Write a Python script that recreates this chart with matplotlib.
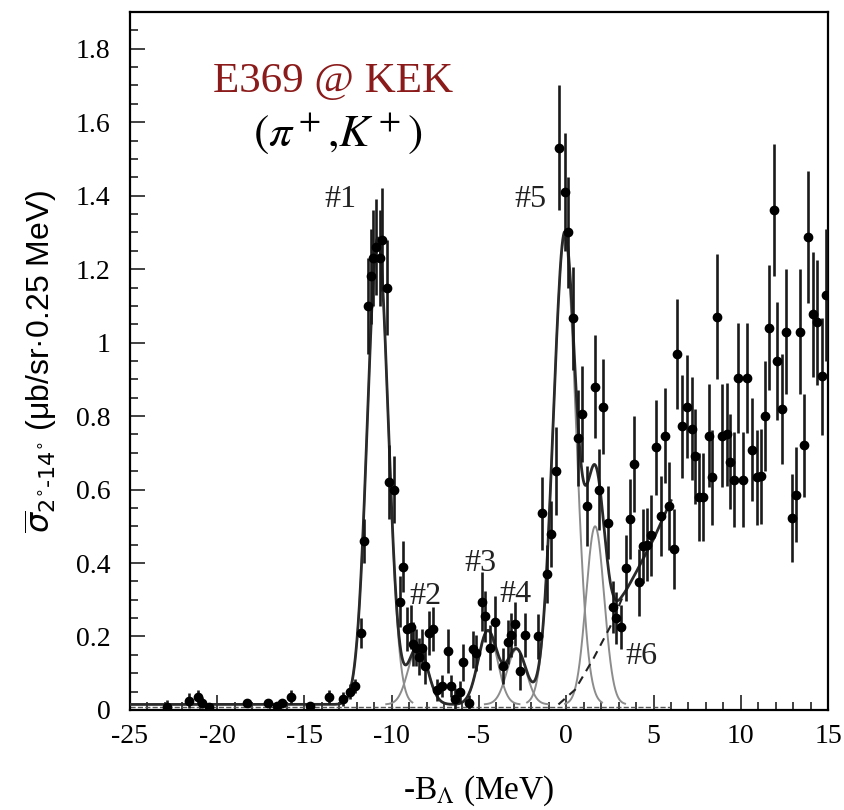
import numpy as np
import matplotlib
matplotlib.use('Agg')
import matplotlib.pyplot as plt
from matplotlib.ticker import MultipleLocator, FixedLocator

# measured cross section points: x (-B_Lambda, MeV), y, error
x_data = [-22.9, -21.6, -21.1, -20.9, -20.5, -18.3, -17.1, -16.6, -16.3, -15.8,
          -14.7, -13.6, -12.8, -12.4, -12.1,
          -11.75, -11.6, -11.35, -11.2, -11.05, -10.9, -10.7, -10.55, -10.3, -10.15,
          -9.85, -9.55, -9.35, -9.1, -8.9, -8.8, -8.6, -8.45, -8.25, -8.1,
          -7.85, -7.65, -7.4, -7.1, -6.8, -6.6, -6.35, -6.1, -5.9, -5.6,
          -5.35, -5.15, -4.85, -4.65, -4.4, -4.1, -3.6, -3.35, -3.15, -2.95,
          -2.65, -2.35, -1.6, -1.37, -1.1, -0.86, -0.57, -0.4, -0.1, 0.12,
          0.4, 0.65, 0.9, 1.2, 1.66, 1.9, 2.12, 2.4, 2.7, 2.87,
          3.15, 3.44, 3.67, 3.9, 4.15, 4.4, 4.64, 4.85, 5.15, 5.4,
          5.65, 5.9, 6.15, 6.36, 6.65, 6.9, 7.2, 7.4, 7.62, 7.85,
          8.2, 8.37, 8.65, 8.9, 9.2, 9.4, 9.63, 9.86, 10.14, 10.37,
          10.66, 10.9, 11.17, 11.4, 11.63, 11.92, 12.1, 12.38, 12.6, 12.95,
          13.18, 13.4, 13.64, 13.87, 14.15, 14.38, 14.67, 14.9]
y_data = [0.008, 0.025, 0.035, 0.02, 0.008, 0.02, 0.02, 0.01, 0.02, 0.035,
          0.01, 0.035, 0.03, 0.05, 0.065,
          0.21, 0.46, 1.10, 1.18, 1.23, 1.26, 1.23, 1.28, 1.15, 0.62,
          0.60, 0.295, 0.39, 0.22, 0.225, 0.18, 0.17, 0.145, 0.17, 0.12,
          0.21, 0.22, 0.055, 0.065, 0.16, 0.065, 0.03, 0.05, 0.13, 0.02,
          0.165, 0.155, 0.295, 0.255, 0.17, 0.24, 0.12, 0.185, 0.205, 0.235,
          0.105, 0.205, 0.20, 0.535, 0.37, 0.48, 0.65, 1.53, 1.41, 1.30,
          1.066, 0.74, 0.805, 0.555, 0.88, 0.60, 0.826, 0.51, 0.28, 0.25,
          0.227, 0.387, 0.52, 0.67, 0.347, 0.446, 0.45, 0.475, 0.715, 0.528,
          0.747, 0.555, 0.438, 0.97, 0.772, 0.826, 0.766, 0.69, 0.58, 0.58,
          0.747, 0.633, 1.07, 0.747, 0.75, 0.676, 0.627, 0.903, 0.627, 0.903,
          0.709, 0.633, 0.636, 0.80, 1.04, 1.36, 0.95, 0.82, 1.03, 0.523,
          0.586, 1.03, 0.72, 1.287, 1.077, 1.055, 0.908, 1.13]
y_err = [0.02, 0.02, 0.02, 0.015, 0.01, 0.01, 0.01, 0.01, 0.01, 0.02,
         0.01, 0.02, 0.02, 0.02, 0.02,
         0.04, 0.06, 0.13, 0.13, 0.13, 0.13, 0.13, 0.14, 0.13, 0.10,
         0.09, 0.07, 0.07, 0.06, 0.06, 0.06, 0.05, 0.05, 0.05, 0.05,
         0.06, 0.06, 0.03, 0.03, 0.06, 0.03, 0.03, 0.03, 0.05, 0.02,
         0.05, 0.05, 0.08, 0.07, 0.06, 0.07, 0.05, 0.06, 0.06, 0.06,
         0.05, 0.06, 0.06, 0.10, 0.08, 0.09, 0.12, 0.17, 0.16, 0.15,
         0.14, 0.13, 0.13, 0.11, 0.14, 0.11, 0.13, 0.10, 0.07, 0.07,
         0.06, 0.09, 0.11, 0.13, 0.09, 0.10, 0.10, 0.11, 0.13, 0.11,
         0.13, 0.12, 0.11, 0.15, 0.14, 0.14, 0.14, 0.13, 0.12, 0.12,
         0.14, 0.13, 0.17, 0.14, 0.14, 0.13, 0.13, 0.15, 0.13, 0.15,
         0.14, 0.13, 0.13, 0.15, 0.17, 0.18, 0.16, 0.15, 0.17, 0.12,
         0.13, 0.17, 0.14, 0.18, 0.17, 0.17, 0.16, 0.18]

# fitted peaks #1..#6 (centre, height above baseline, width)
peak_names = ['#1', '#2', '#3', '#4', '#5', '#6']
peak_centers = [-10.8, -8.5, -4.5, -2.85, -0.1, 1.65]
peak_heights = [1.27, 0.16, 0.20, 0.15, 1.27, 0.485]
peak_sigmas = [0.6, 0.55, 0.55, 0.55, 0.65, 0.52]
baseline = 0.015
fit_range = (-25, 6)

# quasi-free background knots (dashed)
bg_x = [-0.45, 0.5, 1.5, 2.5, 3.2, 4.0, 5.0, 6.0]
bg_y = [0.0, 0.04, 0.12, 0.21, 0.29, 0.36, 0.45, 0.555]

# peak label positions
label_x = [-12.95, -8.05, -4.9, -2.9, -2.05, 4.3]
label_y = [1.39, 0.31, 0.40, 0.315, 1.39, 0.145]

plt.rcParams['font.family'] = ['Liberation Serif', 'DejaVu Serif']
plt.rcParams['axes.unicode_minus'] = False

fig = plt.figure(figsize=(8.45, 8.1), dpi=100)
ax = fig.add_axes([0.1538, 0.1235, 0.8262, 0.8617])

xs = np.linspace(fit_range[0], fit_range[1], 3000)
bg = np.where(xs > bg_x[0], np.interp(xs, bg_x, bg_y), 0.0)
total = baseline + bg
for c, h, s in zip(peak_centers, peak_heights, peak_sigmas):
    total = total + h * np.exp(-(xs - c) ** 2 / (2 * s ** 2))

# components
for c, h, s in zip(peak_centers, peak_heights, peak_sigmas):
    xc = np.linspace(c - 3.3 * s, c + 3.3 * s, 300)
    ax.plot(xc, baseline + h * np.exp(-(xc - c) ** 2 / (2 * s ** 2)),
            color='#8c8c8c', linewidth=1.4, zorder=2)

ax.plot(fit_range, [baseline - 0.007] * 2, color='#555555', linewidth=1.0,
        linestyle='--', zorder=2)
xb = np.linspace(bg_x[0], 3.5, 200)
ax.plot(xb, baseline + np.interp(xb, bg_x, bg_y), color='#222222',
        linewidth=1.5, linestyle=(0, (4, 3)), zorder=2)
ax.plot(xs, total, color='#2a2a2a', linewidth=2.0, zorder=3)

ax.errorbar(x_data, y_data, yerr=y_err, fmt='o', color='black',
            markersize=6, elinewidth=1.9, ecolor='#1a1a1a', capsize=0, zorder=4)

for name, lx, ly in zip(peak_names, label_x, label_y):
    ax.text(lx, ly, name, fontsize=23, ha='center', va='center', color='#222222')

ax.text(-13.35, 1.71, 'E369 @ KEK', fontsize=31, color='#8b1a1a',
        ha='center', va='center')
ax.text(-13.1, 1.57, r'$(\pi^+{,}K^+)$', fontsize=33, color='black',
        ha='center', va='center', math_fontfamily='stix')

ax.set_xlim(-25, 15)
ax.set_ylim(0, 1.9)
ax.xaxis.set_major_locator(MultipleLocator(5))
ax.xaxis.set_minor_locator(MultipleLocator(1))
ax.yaxis.set_major_locator(FixedLocator([0, 0.2, 0.4, 0.6, 0.8, 1.0, 1.2, 1.4, 1.6, 1.8]))
ax.yaxis.set_minor_locator(MultipleLocator(0.05))
ax.set_yticklabels(['0', '0.2', '0.4', '0.6', '0.8', '1', '1.2', '1.4', '1.6', '1.8'])

ax.tick_params(which='both', direction='in', top=False, right=False,
               labelsize=20, width=1.3, color='#333333')
ax.tick_params(which='major', length=11)
ax.tick_params(which='minor', length=6)
ax.tick_params(axis='y', pad=14)
ax.tick_params(axis='x', pad=10)
for sp in ax.spines.values():
    sp.set_linewidth(1.6)

ax.set_xlabel(r'-B$_\Lambda$ (MeV)', fontsize=24, labelpad=18,
              math_fontfamily='stix')
ax.set_ylabel(r'$\overline{\sigma}_{2^{\circ}\text{-}14^{\circ}}$ (μb/sr·0.25 MeV)',
              fontsize=23, labelpad=12, family=['Liberation Sans', 'DejaVu Sans'],
              math_fontfamily='dejavusans')

fig.savefig('out.png', dpi=100)
